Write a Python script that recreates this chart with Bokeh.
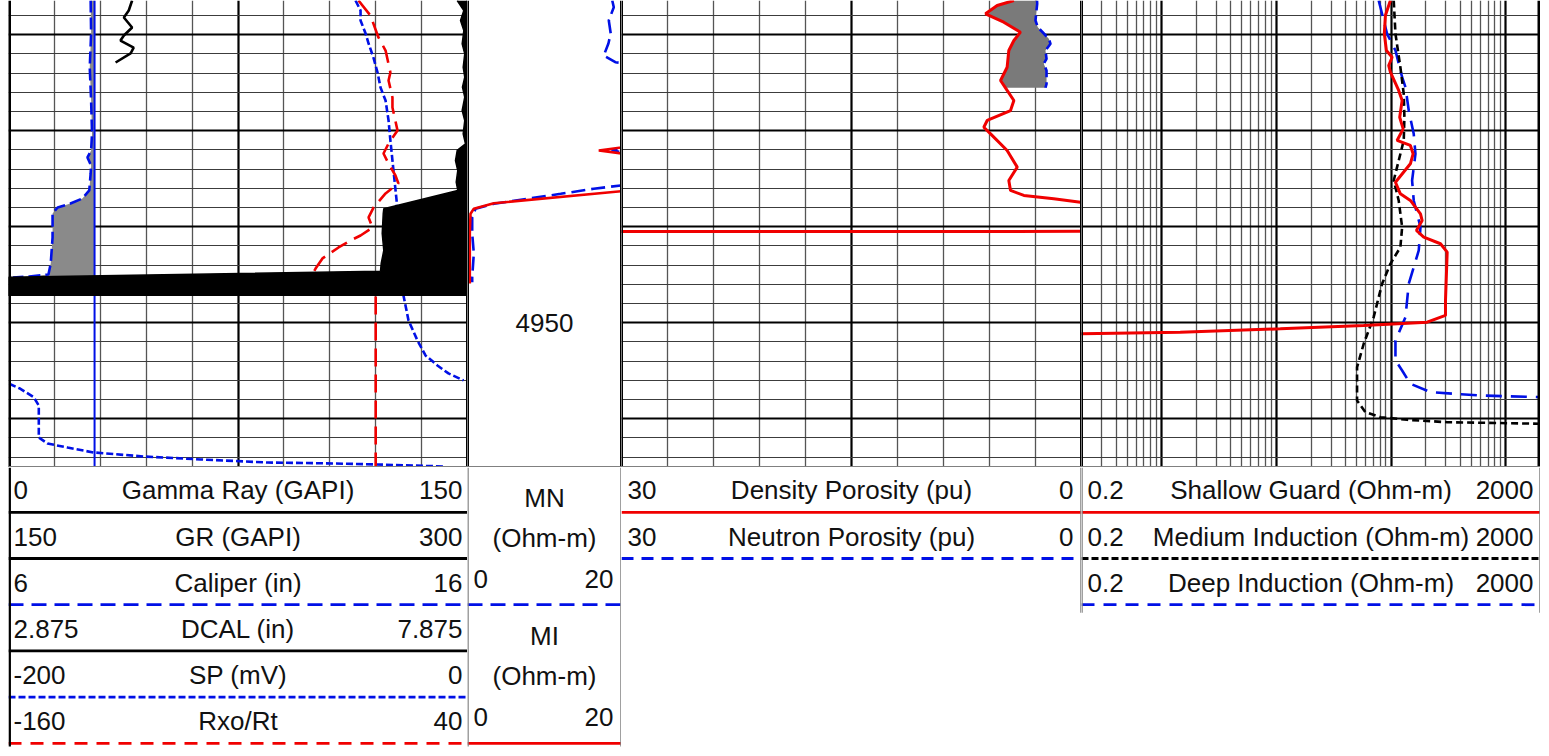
import numpy as np
from bokeh.plotting import figure
from bokeh.models import Range1d, FixedTicker, Span, Spacer
from bokeh.layouts import row, column
from bokeh.embed import file_html
from bokeh.resources import INLINE
from bokeh.core.properties import value

FONT = "Liberation Sans"
FS = "26px"
RED = "#f00000"
BLUE = "#0010e6"
BLACK = "#000000"
GRAY = "#808080"

# ---------------- depth axis (ft) ----------------
depth_top = 4916.43
depth_bottom = 4965.08
depth_major = [4920, 4930, 4940, 4950, 4960]
depth_minor = [4918, 4922, 4924, 4926, 4928, 4932, 4934, 4936, 4938, 4942, 4944,
               4946, 4948, 4952, 4954, 4956, 4958, 4962, 4964]
depth_labels = [4950]

# ---------------- track 1 scales ----------------
scale_gr = (0, 150)
scale_gr2 = (150, 300)
scale_cal = (6, 16)
scale_dcal = (2.875, 7.875)
scale_sp = (-200, 0)
scale_rxo = (-160, 40)
bit_size = 7.875

gr_depth = [4916.43, 4917.47, 4918.2, 4919.24, 4920.08, 4920.6, 4921.33, 4921.95, 4922.89]
gr_val = [40.4, 39.3, 37.7, 40.4, 37.7, 36.6, 40.9, 39.9, 35.0]

cal_depth = [4916.43, 4919.87, 4923.41, 4926.85, 4930.28, 4932.05, 4932.78, 4933.62, 4934.45,
             4936.22, 4937.05, 4937.58, 4937.99, 4938.62, 4941.12, 4943.83, 4944.97, 4945.18, 4945.28]
cal_val = [7.79, 7.80, 7.77, 7.80, 7.82, 7.80, 7.72, 7.80, 7.79,
           7.76, 7.61, 7.35, 7.07, 6.96, 6.96, 6.92, 6.87, 6.45, 6.10]

dcal_depth = [4916.43, 4917.47, 4918.51, 4919.56, 4920.94, 4921.98, 4923.38, 4924.42, 4925.46,
              4926.5, 4927.89, 4928.93, 4930.32, 4931.36, 4932.05, 4933.1, 4934.14, 4935.36,
              4936.22, 4938.13, 4938.62, 4940.7, 4942.47, 4943.83, 4944.63, 4945.25, 4947.21]
dcal_val = [7.763, 7.835, 7.799, 7.835, 7.817, 7.845, 7.828, 7.845, 7.820,
            7.845, 7.817, 7.845, 7.828, 7.853, 7.763, 7.744, 7.769, 7.752,
            7.769, 6.963, 6.957, 6.946, 6.963, 6.935, 6.927, 2.875, 2.875]

sp_depth = [4916.43, 4917.47, 4918.51, 4919.87, 4920.91, 4922.37, 4923.93, 4925.49, 4926.85,
            4928.93, 4931.01, 4933.1, 4935.18, 4937.26, 4938.1, 4942.0, 4947.16, 4949.76,
            4951.85, 4953.41, 4954.45, 4955.28, 4956.01, 4956.36, 4956.88, 4957.75, 4958.62,
            4960.49, 4961.95, 4962.58, 4963.0, 4963.51, 4963.93, 4964.24, 4964.56, 4964.66,
            4964.76, 4964.97]
sp_val = [-48.8, -46.6, -46.6, -44.4, -43.1, -41.0, -39.2, -37.9, -35.7,
          -34.4, -33.6, -32.7, -31.8, -30.9, -30.9, -29.5, -27.9, -25.7,
          -21.8, -18.3, -13.1, -8.3, -1.7, 0.3, 5.2, 11.0, 13.2,
          13.2, 13.2, 17.0, 25.7, 37.0, 58.8, 83.7, 112.9, 141.6,
          159.9, 189.5]

rxo_depth = [4916.43, 4917.99, 4920.28, 4921.64, 4923.93, 4924.76, 4926.53, 4927.58, 4929.97,
             4931.33, 4932.37, 4933.41, 4934.66, 4935.49, 4936.53, 4937.99, 4939.03, 4940.08,
             4940.91, 4941.43, 4942.16, 4943.3, 4944.35, 4946.0, 4947.2, 4965.1]
rxo_val = [-7.5, -2.3, 1.2, 4.3, 6.4, 5.6, 7.3, 7.3, 9.5,
           5.6, 3.4, 5.6, 8.6, 9.9, 4.3, -0.9, -3.1, -1.4,
           -6.6, -11.0, -16.2, -23.2, -26.2, -30.0, 0.0, 0.0]

# ---------------- track 2 (micro log) ----------------
scale_micro = (0, 20)
mn_depth = [4916.43, 4917.13, 4918.51, 4919.87, 4920.91, 4922.16, 4922.86, 4923.3, 4931.3,
            4932.05, 4932.8, 4935.4, 4935.7, 4936.04, 4936.57, 4937.09, 4937.61, 4938.13,
            4939.0, 4940.7, 4942.78, 4945.25, 4945.77]
mn_val = [18.8, 19.0, 18.35, 18.6, 18.3, 17.7, 19.2, 24.0, 24.0,
          18.7, 24.0, 24.0, 19.9, 16.4, 12.1, 7.75, 3.42, 1.04,
          0.61, 0.61, 0.82, 0.61, 0.61]
mi_depth = [4916.43, 4931.3, 4932.05, 4932.8, 4936.0, 4936.3, 4937.55, 4938.13, 4938.65,
            4940.73, 4945.6, 4945.91]
mi_val = [24.0, 24.0, 17.05, 24.0, 24.0, 20.0, 3.42, 0.82, 0.39, 0.30, 0.30, 0.30]

# ---------------- track 3 (porosity) ----------------
scale_phi = (30, 0)
dphi_depth = [4916.43, 4916.95, 4917.82, 4918.69, 4919.73, 4920.6, 4921.64, 4923.38, 4924.76,
              4925.8, 4926.85, 4927.89, 4928.93, 4929.63, 4930.32, 4932.05, 4933.79, 4935.18,
              4936.22, 4936.74, 4937.09, 4937.44, 4938.0, 4940.48, 4940.5, 4941.0]
dphi_val = [4.41, 5.50, 6.26, 5.07, 3.98, 4.41, 4.74, 4.85, 5.28,
            4.85, 4.41, 4.63, 6.15, 6.37, 5.93, 4.85, 4.19, 4.74,
            4.63, 3.76, 1.81, 0.07, -1.0, -1.0, 31.0, 40.0]
nphi_depth = [4916.43, 4916.77, 4918.51, 4919.21, 4920.42, 4920.94, 4921.64, 4922.5, 4923.02,
              4923.72, 4925.11, 4925.52]
nphi_val = [2.9, 2.89, 3.0, 2.85, 2.13, 2.02, 2.35, 2.28, 2.46, 2.28, 2.28, 2.35]

# ---------------- track 4 (resistivity, log) ----------------
scale_res = (0.2, 2000)
res_major = [1, 10, 100, 1000]
res_minor = [0.3, 0.4, 0.5, 0.6, 0.7, 0.8, 0.9, 2, 3, 4, 5, 6, 7, 8, 9,
             20, 30, 40, 50, 60, 70, 80, 90, 200, 300, 400, 500, 600, 700, 800, 900]
sg_depth = [4916.43, 4918.0, 4919.87, 4921.64, 4922.34, 4923.2, 4923.9, 4925.8, 4926.85,
            4928.59, 4929.8, 4931.01, 4931.53, 4932.4, 4933.44, 4935.36, 4936.57, 4937.26,
            4938.65, 4939.35, 4940.39, 4941.09, 4941.77, 4942.65, 4947.68, 4949.24, 4949.94,
            4950.28, 4950.63, 4950.98, 4951.15, 4951.3]
sg_val = [98.4, 89.0, 87.1, 90.8, 101.9, 95.1, 98.4, 116.2, 124.5,
          118.6, 127.1, 112.5, 146.9, 155.2, 146.9, 108.9, 120.2, 146.9,
          179.9, 186.1, 165.9, 192.1, 268.9, 307.5, 297.2, 297.2, 205.6,
          57.6, 10.8, 1.45, 0.2, 0.15]
im_depth = [4916.43, 4919.9, 4923.38, 4926.15, 4928.59, 4931.01, 4935.18, 4937.26, 4940.04,
            4942.13, 4943.86, 4945.94, 4949.42, 4952.19, 4954.63, 4958.1, 4959.31, 4959.84,
            4960.11, 4960.36, 4960.52, 4960.56]
im_val = [105.2, 108.9, 120.2, 128.6, 130.3, 128.6, 105.2, 116.2, 124.5,
          120.2, 98.4, 83.3, 70.3, 57.6, 50.4, 50.4, 59.6, 80.5,
          137.7, 307.5, 2000, 2200]
id_depth = [4916.43, 4919.9, 4921.64, 4924.42, 4925.46, 4927.89, 4930.32, 4932.4, 4935.18,
            4937.26, 4940.04, 4942.47, 4945.94, 4949.42, 4951.85, 4953.93, 4954.97, 4956.36,
            4957.23, 4957.58, 4957.75, 4957.78]
id_val = [77.8, 92.1, 108.9, 124.5, 133.1, 142.2, 157.1, 162.7, 152.1,
          157.1, 179.9, 173.8, 142.2, 133.1, 108.9, 108.9, 124.5, 146.9,
          219.8, 600, 2000, 2200]

# ---------------- header texts ----------------
t1_min = ["0", "150", "6", "2.875", "-200", "-160"]
t1_title = ["Gamma Ray (GAPI)", "GR (GAPI)", "Caliper (in)", "DCAL (in)", "SP (mV)", "Rxo/Rt"]
t1_max = ["150", "300", "16", "7.875", "0", "40"]
t1_color = [BLACK, BLACK, BLUE, BLACK, BLUE, RED]
t1_dash = ["solid", "solid", "15 8", "solid", "7 3", "13 9"]

t2_title = ["MN", "MI"]
t2_unit = ["(Ohm-m)", "(Ohm-m)"]
t2_min = ["0", "0"]
t2_max = ["20", "20"]
t2_color = [BLUE, RED]
t2_dash = ["15 8", "solid"]

t3_min = ["30", "30"]
t3_title = ["Density Porosity (pu)", "Neutron Porosity (pu)"]
t3_max = ["0", "0"]
t3_color = [RED, BLUE]
t3_dash = ["solid", "12 8"]

t4_min = ["0.2", "0.2", "0.2"]
t4_title = ["Shallow Guard (Ohm-m)", "Medium Induction (Ohm-m)", "Deep Induction (Ohm-m)"]
t4_max = ["2000", "2000", "2000"]
t4_color = [RED, BLACK, BLUE]
t4_dash = ["solid", "7 3", "13 9"]

# ---------------- layout constants ----------------
LEFT_PAD = 8
W1, W2, W3, W4 = 459, 154, 460, 459
TRACK_H = 467
HEADER_H = 283
ROW_H = 46.2
ROW0 = 44.8


def track_figure(width, xr, x_type="linear"):
    p = figure(width=width, height=TRACK_H, x_range=Range1d(*xr),
               y_range=Range1d(depth_bottom, depth_top), x_axis_type=x_type,
               x_axis_location=None, y_axis_location=None, toolbar_location=None,
               output_backend="svg", min_border=0, outline_line_color=None,
               background_fill_color="white", border_fill_color="white")
    p.ygrid.ticker = FixedTicker(ticks=depth_major, minor_ticks=depth_minor)
    p.ygrid.grid_line_color = BLACK
    p.ygrid.grid_line_width = 2.2
    p.ygrid.minor_grid_line_color = "#3c3c3c"
    p.ygrid.minor_grid_line_width = 1.1
    return p


def borders(p, left_w=3, right_w=3):
    p.add_layout(Span(location=p.x_range.start, dimension="height", line_color=BLACK, line_width=left_w))
    p.add_layout(Span(location=p.x_range.end, dimension="height", line_color=BLACK, line_width=right_w))
    p.add_layout(Span(location=depth_bottom, dimension="width", line_color=GRAY, line_width=3))


def linear_xgrid(p, lo, hi):
    step = (hi - lo) / 10.0
    mid = lo + 5 * step
    minor = [lo + i * step for i in range(1, 10) if i != 5]
    p.xgrid.ticker = FixedTicker(ticks=[mid], minor_ticks=minor)
    p.xgrid.grid_line_color = BLACK
    p.xgrid.grid_line_width = 2.2
    p.xgrid.minor_grid_line_color = "#555555"
    p.xgrid.minor_grid_line_width = 1.3


def wrap_curve(depth, vals, lo, hi):
    span = hi - lo
    xs, ys = [], []
    prev = None
    for d, v in zip(depth, vals):
        k = np.floor((v - lo) / span)
        if prev is not None and k != prev:
            xs.append(np.nan)
            ys.append(np.nan)
        xs.append(v - k * span)
        ys.append(d)
        prev = k
    return np.array(xs), np.array(ys)


# ================= TRACK 1 =================
t1 = track_figure(W1, scale_gr)
t1.extra_x_ranges = {
    "gr2": Range1d(*scale_gr2), "cal": Range1d(*scale_cal), "dcal": Range1d(*scale_dcal),
    "sp": Range1d(*scale_sp), "rxo": Range1d(*scale_rxo),
}
linear_xgrid(t1, *scale_gr)

cal_d = np.array(cal_depth)
cal_v = np.array(cal_val)
t1.harea(x1=cal_v, x2=np.full(len(cal_v), bit_size), y=cal_d, x_range_name="cal",
         fill_color="#8a8a8a")
t1.line(x=[bit_size, bit_size], y=[depth_top, depth_bottom], x_range_name="cal",
        line_color=BLUE, line_width=2)
t1.line(x=cal_v, y=cal_d, x_range_name="cal", line_color=BLUE, line_width=2.6, line_dash="12 5")

sp_x, sp_y = wrap_curve(sp_depth, sp_val, *scale_sp)
t1.line(x=sp_x, y=sp_y, x_range_name="sp", line_color=BLUE, line_width=2.6, line_dash="7 3")
t1.line(x=np.array(rxo_val), y=np.array(rxo_depth), x_range_name="rxo", line_color=RED,
        line_width=2.6, line_dash="18 8")
t1.line(x=np.array(gr_val), y=np.array(gr_depth), line_color=BLACK, line_width=2.6)

dcal_d = np.array(dcal_depth)
dcal_v = np.array(dcal_val)
t1.harea(x1=dcal_v, x2=np.full(len(dcal_v), scale_dcal[1]), y=dcal_d, x_range_name="dcal",
         fill_color=BLACK)
t1.line(x=dcal_v, y=dcal_d, x_range_name="dcal", line_color=BLACK, line_width=1.5)
borders(t1, left_w=5, right_w=3)

# ================= TRACK 2 =================
t2 = track_figure(W2, scale_micro)
t2.grid.visible = False
t2.line(x=np.array(mn_val), y=np.array(mn_depth), line_color=BLUE, line_width=2.6, line_dash="14 6")
t2.line(x=np.array(mi_val), y=np.array(mi_depth), line_color=RED, line_width=2.6)
t2.text(x=[(scale_micro[0] + scale_micro[1]) / 2] * len(depth_labels), y=depth_labels,
        text=[str(d) for d in depth_labels], text_align="center", text_baseline="middle",
        text_font=value(FONT), text_font_size=FS, text_color="#111111")
borders(t2)

# ================= TRACK 3 =================
t3 = track_figure(W3, scale_phi)
linear_xgrid(t3, *scale_phi)
fill_depth = np.array(sorted(set(nphi_depth) | {d for d in dphi_depth if d <= max(nphi_depth)}))
fill_x1 = np.interp(fill_depth, dphi_depth, dphi_val)
fill_x2 = np.interp(fill_depth, nphi_depth, nphi_val)
t3.harea(x1=fill_x1, x2=fill_x2, y=fill_depth, fill_color="#7a7a7a")
t3.line(x=np.array(nphi_val), y=np.array(nphi_depth), line_color=BLUE, line_width=2.6, line_dash="10 5")
t3.line(x=np.array(dphi_val), y=np.array(dphi_depth), line_color=RED, line_width=3)
borders(t3)

# ================= TRACK 4 =================
t4 = track_figure(W4, scale_res, x_type="log")
t4.xgrid.ticker = FixedTicker(ticks=res_major, minor_ticks=res_minor)
t4.xgrid.grid_line_color = BLACK
t4.xgrid.grid_line_width = 2.2
t4.xgrid.minor_grid_line_color = "#555555"
t4.xgrid.minor_grid_line_width = 1.3
t4.line(x=np.array(id_val), y=np.array(id_depth), line_color=BLUE, line_width=2.6, line_dash="16 9")
t4.line(x=np.array(im_val), y=np.array(im_depth), line_color=BLACK, line_width=2.6, line_dash="7 4")
t4.line(x=np.array(sg_val), y=np.array(sg_depth), line_color=RED, line_width=3)
borders(t4, left_w=3, right_w=6)


# ================= HEADERS =================
def header_figure(width):
    p = figure(width=width, height=HEADER_H, x_range=Range1d(0, width),
               y_range=Range1d(HEADER_H, 0), x_axis_location=None, y_axis_location=None,
               toolbar_location=None, output_backend="svg", min_border=0,
               outline_line_color=None, background_fill_color="white",
               border_fill_color="white")
    p.grid.visible = False
    return p


def put_text(p, xs, ys, texts, align):
    p.text(x=xs, y=ys, text=texts, text_align=align, text_baseline="middle",
           text_font=value(FONT), text_font_size=FS, text_color="#111111")


def header_rows(p, width, mins, titles, maxs, colors, dashes, pad_l=5, pad_r=5):
    n = len(titles)
    lines_y = [ROW0 + i * ROW_H for i in range(n)]
    text_y = [y - 22 for y in lines_y]
    put_text(p, [pad_l] * n, text_y, mins, "left")
    put_text(p, [width / 2] * n, text_y, titles, "center")
    put_text(p, [width - pad_r] * n, text_y, maxs, "right")
    for i in range(n):
        p.line(x=[0, width], y=[lines_y[i], lines_y[i]], line_color=colors[i],
               line_dash=dashes[i], line_width=2.8)
    return lines_y


h1 = header_figure(W1)
header_rows(h1, W1, t1_min, t1_title, t1_max, t1_color, t1_dash)
h1.line(x=[1.2, 1.2], y=[0, HEADER_H - 4], line_color=BLACK, line_width=2.5)

h2 = header_figure(W2)
for k in range(len(t2_title)):
    L = ROW0 + (3 * k + 2) * ROW_H
    put_text(h2, [W2 / 2], [L - 107], [t2_title[k]], "center")
    put_text(h2, [W2 / 2], [L - 67], [t2_unit[k]], "center")
    put_text(h2, [6], [L - 26], [t2_min[k]], "left")
    put_text(h2, [W2 - 8], [L - 26], [t2_max[k]], "right")
    h2.line(x=[0, W2], y=[L, L], line_color=t2_color[k], line_dash=t2_dash[k], line_width=2.8)
h2.line(x=[0.5, 0.5], y=[0, HEADER_H - 4], line_color=GRAY, line_width=1.5)
h2.line(x=[W2 - 0.5, W2 - 0.5], y=[0, HEADER_H - 4], line_color=GRAY, line_width=1.5)

h3 = header_figure(W3)
header_rows(h3, W3, t3_min, t3_title, t3_max, t3_color, t3_dash, pad_l=6, pad_r=8)
h3.line(x=[W3 - 0.5, W3 - 0.5], y=[0, ROW0 + 2 * ROW_H + 8], line_color=GRAY, line_width=1.5)

h4 = header_figure(W4)
header_rows(h4, W4, t4_min, t4_title, t4_max, t4_color, t4_dash, pad_l=6, pad_r=7)
h4.line(x=[0.5, 0.5], y=[0, ROW0 + 2 * ROW_H + 8], line_color=GRAY, line_width=1.5)
h4.line(x=[W4 - 0.5, W4 - 0.5], y=[0, ROW0 + 2 * ROW_H + 8], line_color=GRAY, line_width=1.5)

layout = column(
    row(Spacer(width=LEFT_PAD, height=TRACK_H), t1, t2, t3, t4),
    row(Spacer(width=LEFT_PAD, height=HEADER_H), h1, h2, h3, h4),
)

with open("out.html", "w") as f:
    f.write(file_html(layout, INLINE))
